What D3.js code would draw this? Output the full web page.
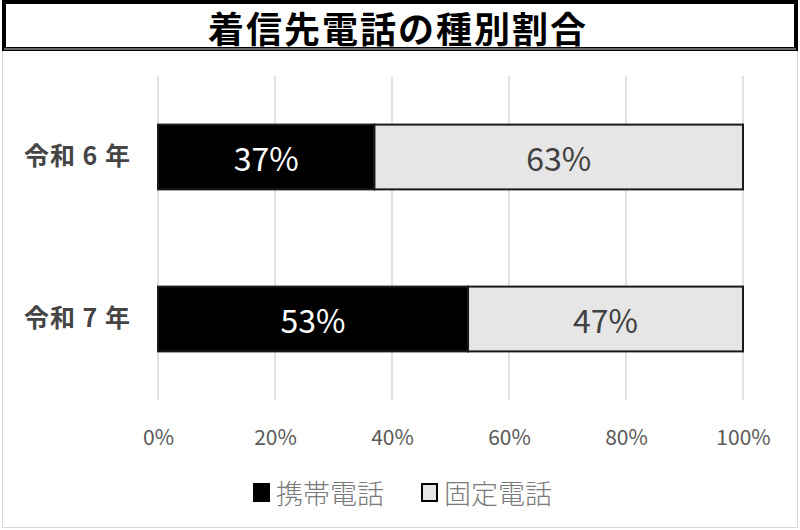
<!DOCTYPE html>
<html><head><meta charset="utf-8">
<script src="https://cdn.jsdelivr.net/npm/d3@7"></script>
<style>
html,body{margin:0;padding:0;background:#fff;}
svg{display:block;font-family:"Noto Sans CJK JP","Noto Sans",sans-serif;}
</style></head>
<body>
<svg id="c" width="800" height="530"></svg>
<script>
const title = "着信先電話の種別割合";
const categories = ["令和 6 年", "令和 7 年"];
const seriesNames = ["携帯電話", "固定電話"];
const mobile = [37, 53];
const landline = [63, 47];
const ticks = [0, 20, 40, 60, 80, 100];
const colors = ["#000000", "#e6e6e6"];
const labelColors = ["#ffffff", "#404040"];

const svg = d3.select("#c");
// chart area border
svg.append("rect").attr("x",2.5).attr("y",50.5).attr("width",795).attr("height",477)
  .attr("fill","#fff").attr("stroke","#d9d9d9").attr("stroke-width",1);
// title box
svg.append("rect").attr("x",4).attr("y",2).attr("width",792).attr("height",47)
  .attr("fill","#fff").attr("stroke","#000").attr("stroke-width",4);
svg.append("line").attr("x1",4).attr("x2",796).attr("y1",49).attr("y2",49)
  .attr("stroke","#888").attr("stroke-width",1.5);
svg.append("text").attr("x",398).attr("y",27).attr("text-anchor","middle")
  .attr("dominant-baseline","central").attr("font-size",36).attr("font-weight","bold")
  .attr("letter-spacing","2px")
  .attr("fill","#000").text(title);

const x = d3.scaleLinear().domain([0,100]).range([158,743]);
const y = d3.scaleBand().domain(categories).range([76,400]).paddingInner(0.6).paddingOuter(0.3);

// gridlines
svg.append("g").selectAll("line").data(ticks).join("line")
  .attr("x1",d=>x(d)).attr("x2",d=>x(d)).attr("y1",76).attr("y2",400)
  .attr("stroke","#d9d9d9").attr("stroke-width",1.5);

// x axis labels
const xAxis = d3.axisBottom(x).tickValues(ticks).tickFormat(d=>d+"%").tickSize(0).tickPadding(0);
const ax = svg.append("g").attr("transform","translate(0,430)").call(xAxis);
ax.select(".domain").remove();
ax.selectAll("text").attr("font-size",21).attr("fill","#595959").attr("dy","0.72em")
  .attr("font-family","'Noto Sans CJK JP',sans-serif");

// category labels
const ay = svg.append("g").attr("transform","translate(131,0)")
  .call(d3.axisLeft(y).tickSize(0).tickPadding(0));
ay.select(".domain").remove();
ay.selectAll("text").attr("font-size",25).attr("font-weight","bold").attr("fill","#454545")
  .attr("letter-spacing","1px")
  .attr("font-family","'Noto Sans CJK JP',sans-serif");

// stacked data
const rows = categories.map((c,i)=>({cat:c, mobile:mobile[i], landline:landline[i]}));
const stack = d3.stack().keys(["mobile","landline"])(rows);
const g = svg.append("g");
stack.forEach((layer,k)=>{
  g.selectAll(null).data(layer).join("rect")
    .attr("x",d=>x(d[0])).attr("width",d=>x(d[1])-x(d[0]))
    .attr("y",d=>y(d.data.cat)).attr("height",y.bandwidth())
    .attr("fill",colors[k]).attr("stroke","#1a1a1a").attr("stroke-width",2);
});
stack.forEach((layer,k)=>{
  g.selectAll(null).data(layer).join("text")
    .attr("x",d=>(x(d[0])+x(d[1]))/2).attr("y",d=>y(d.data.cat)+y.bandwidth()/2)
    .attr("text-anchor","middle").attr("dominant-baseline","central")
    .attr("font-size",32).attr("fill",labelColors[k])
    .text(d=>(d[1]-d[0])+"%");
});

// legend
const leg = svg.append("g");
const legX = [253, 421];
seriesNames.forEach((n,i)=>{
  leg.append("rect").attr("x",legX[i]+1).attr("y",484).attr("width",15).attr("height",17)
    .attr("fill",colors[i]).attr("stroke","#000").attr("stroke-width",2);
  leg.append("text").attr("x",legX[i]+23).attr("y",492).attr("dominant-baseline","central")
    .attr("font-size",27).attr("font-weight",300).attr("fill","#7a7a7a").text(n);
});
</script>
</body></html>
